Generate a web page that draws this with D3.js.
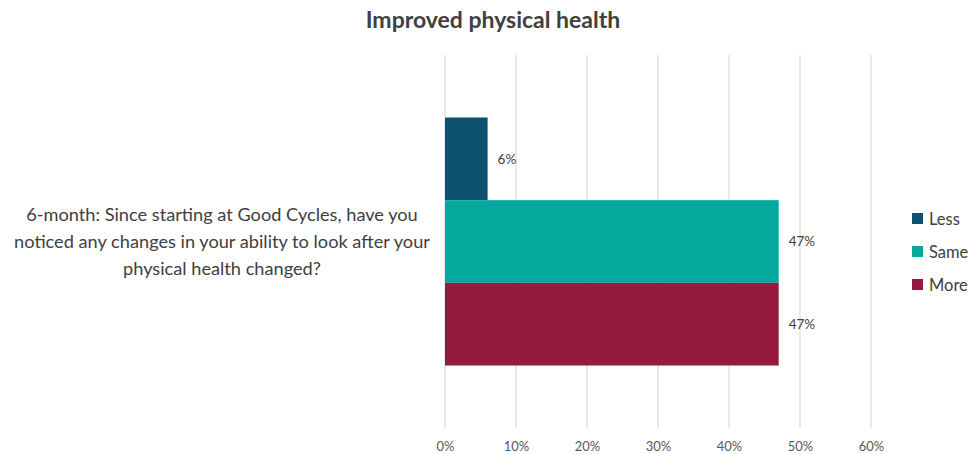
<!DOCTYPE html>
<html>
<head>
<meta charset="utf-8">
<script src="https://cdn.jsdelivr.net/npm/d3@7"></script>
<style>
  html, body { margin: 0; padding: 0; background: #fff; }
  svg { display: block; font-family: Lato, "Open Sans", sans-serif; }
</style>
</head>
<body>
<svg id="chart" width="970" height="454"></svg>
<script>
// Survey response shares (percent) for the single 6-month question
const categories = ["6-month: Since starting at Good Cycles, have you noticed any changes in your ability to look after your physical health changed?"];
const categoryLines = [["6-month: Since starting at Good Cycles, have you", "noticed any changes in your ability to look after your", "physical health changed?"]];
const seriesNames = ["Less", "Same", "More"];
const seriesValues = [[6], [47], [47]];
const seriesColors = ["#0b506f", "#05a89d", "#951a3d"];
const tickValues = [0, 10, 20, 30, 40, 50, 60];
const titleText = "Improved physical health";

const svg = d3.select("#chart");
const plot = { left: 445, right: 871, top: 55, bottom: 428 };

const x = d3.scaleLinear().domain([0, 60]).range([plot.left, plot.right]);
const y0 = d3.scaleBand().domain(categories).range([plot.top, plot.bottom])
  .paddingInner(0).paddingOuter(0.252);
const y1 = d3.scaleBand().domain(seriesNames).range([0, y0.bandwidth()]).padding(0);

// Title
svg.append("text")
  .attr("x", 493).attr("y", 28)
  .attr("text-anchor", "middle")
  .attr("font-size", 23).attr("font-weight", 700)
  .attr("fill", "#404040")
  .text(titleText);

// Vertical gridlines
svg.append("g").selectAll("line").data(tickValues).join("line")
  .attr("x1", d => x(d)).attr("x2", d => x(d))
  .attr("y1", plot.top).attr("y2", plot.bottom)
  .attr("stroke", "#d9d9d9").attr("stroke-width", 1.2);

// Bottom axis labels (no domain line)
const xAxis = d3.axisBottom(x).tickValues(tickValues).tickSize(0).tickPadding(0)
  .tickFormat(d => d + "%");
const gx = svg.append("g").attr("transform", `translate(0,${plot.bottom + 14})`).call(xAxis);
gx.select(".domain").remove();
gx.selectAll("text").attr("font-size", 13).attr("fill", "#595959")
  .attr("font-family", "Lato, 'Open Sans', sans-serif");

// Bars with value labels
const group = svg.append("g").attr("transform", `translate(0,${y0(categories[0])})`);
seriesNames.forEach((s, i) => {
  const v = seriesValues[i][0];
  group.append("rect")
    .attr("x", x(0)).attr("y", y1(s))
    .attr("width", x(v) - x(0)).attr("height", y1.bandwidth())
    .attr("fill", seriesColors[i]);
  group.append("text")
    .attr("x", x(v) + 10).attr("y", y1(s) + y1.bandwidth() / 2)
    .attr("dy", "0.35em")
    .attr("font-size", 13.5).attr("fill", "#404040")
    .text(v + "%");
});

// Category label
const catText = svg.append("text")
  .attr("text-anchor", "middle")
  .attr("font-size", 18.2).attr("fill", "#404040");
categoryLines[0].forEach((line, i) => {
  catText.append("tspan")
    .attr("x", 222)
    .attr("y", y0(categories[0]) + y0.bandwidth() / 2 - 27 + i * 27)
    .attr("dy", "0.35em")
    .text(line);
});

// Legend
const legend = svg.append("g").selectAll("g").data(seriesNames).join("g")
  .attr("transform", (d, i) => `translate(912,${219 + i * 33})`);
legend.append("rect")
  .attr("x", 0).attr("y", -6).attr("width", 11).attr("height", 11)
  .attr("fill", (d, i) => seriesColors[i]);
legend.append("text")
  .attr("x", 17).attr("y", 0).attr("dy", "0.35em")
  .attr("font-size", 16.5).attr("fill", "#404040")
  .text(d => d);
</script>
</body>
</html>
